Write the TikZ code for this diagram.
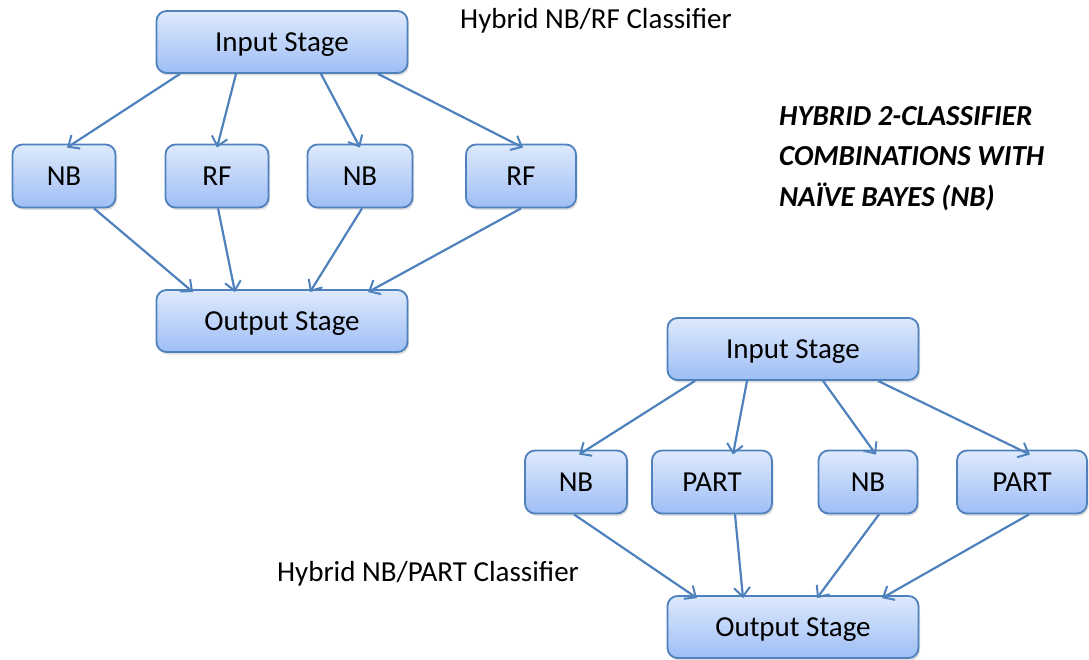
\documentclass[tikz,border=0pt]{standalone}
\usepackage{fontspec}
\setmainfont{Carlito}
\usetikzlibrary{arrows.meta,shadows}

\definecolor{boxline}{RGB}{79,129,189}
\definecolor{boxtop}{RGB}{222,233,252}
\definecolor{boxbot}{RGB}{158,190,246}

\tikzset{
  stagebox/.style={rectangle,rounded corners=10pt,draw=boxline,line width=1.8pt,
    top color=boxtop,bottom color=boxbot,inner sep=0pt,
    text height=19pt,text depth=0pt,
    drop shadow={shadow xshift=1.5pt,shadow yshift=-2.5pt,opacity=0.25},
    font=\fontsize{29}{34}\selectfont},
  wide/.style={minimum width=251pt,minimum height=62pt},
  leaf/.style={minimum height=63pt},
  caption/.style={font=\fontsize{29}{34}\selectfont}
}

\begin{document}
\begin{tikzpicture}[x=1pt,y=-1pt]
\useasboundingbox (0,0) rectangle (1089,660);
\begin{scope}[every node/.style={stagebox}]
    % NB/RF
    \node[wide] (IN1) at (282,42) {Input Stage};
    \node[leaf,minimum width=103pt] (NB1) at (64,176) {NB};
    \node[leaf,minimum width=103pt] (RF1) at (217,176) {RF};
    \node[leaf,minimum width=105pt] (NB2) at (360,176) {NB};
    \node[leaf,minimum width=110pt] (RF2) at (521,176) {RF};
    \node[wide] (OUT1) at (282,321) {Output Stage};
    % NB/PART
    \node[wide] (IN2) at (793,349) {Input Stage};
    \node[leaf,minimum width=102pt] (NB3) at (576,482) {NB};
    \node[leaf,minimum width=120pt] (PA1) at (712,482) {PART};
    \node[leaf,minimum width=99pt] (NB4) at (868,482) {NB};
    \node[leaf,minimum width=130pt] (PA2) at (1022,482) {PART};
    \node[wide] (OUT2) at (793,627) {Output Stage};
\end{scope}

\node[caption] (T1) at (596,21) {Hybrid NB/RF Classifier};
\node[caption] (T2) at (428,574) {Hybrid NB/PART Classifier};
\node[caption,anchor=north west,align=left,inner sep=0pt,font=\fontsize{29}{40.5}\selectfont\bfseries\itshape]
    (T3) at (779,106) {HYBRID 2-CLASSIFIER\\COMBINATIONS WITH\\NAÏVE BAYES (NB)};

\begin{scope}[>={Straight Barb[length=9pt,width=16pt,line width=2pt]},
              every edge/.style={draw=boxline,line width=2.2pt}]
    % Verteilung
    \path [->] ([xshift=-102pt]IN1.south) edge ([xshift=3pt,yshift=-4pt]NB1.north);
    \path [->] ([xshift=-46pt]IN1.south) edge ([yshift=-4pt]RF1.north);
    \path [->] ([xshift=39pt]IN1.south) edge ([yshift=-4pt]NB2.north);
    \path [->] ([xshift=96pt]IN1.south) edge ([xshift=2pt,yshift=-4pt]RF2.north);
    % Zusammenfuehrung
    \path [->] ([xshift=30pt]NB1.south) edge ([xshift=-89pt,yshift=-3pt]OUT1.north);
    \path [->] ([xshift=1pt]RF1.south) edge ([xshift=-47pt,yshift=-3pt]OUT1.north);
    \path [->] ([xshift=2pt]NB2.south) edge ([xshift=28pt,yshift=-3pt]OUT1.north);
    \path [->] (RF2.south) edge ([xshift=86pt,yshift=-3pt]OUT1.north);
    % Verteilung
    \path [->] ([xshift=-98pt]IN2.south) edge ([xshift=3pt,yshift=-5pt]NB3.north);
    \path [->] ([xshift=-46pt]IN2.south) edge ([xshift=21pt,yshift=-5pt]PA1.north);
    \path [->] ([xshift=30pt]IN2.south) edge ([xshift=8pt,yshift=-5pt]NB4.north);
    \path [->] ([xshift=85pt]IN2.south) edge ([xshift=8pt,yshift=-5pt]PA2.north);
    % Zusammenfuehrung
    \path [->] ([xshift=-2pt]NB3.south) edge ([xshift=-96pt,yshift=-3pt]OUT2.north);
    \path [->] ([xshift=23pt]PA1.south) edge ([xshift=-50pt,yshift=-3pt]OUT2.north);
    \path [->] ([xshift=11pt]NB4.south) edge ([xshift=24pt,yshift=-3pt]OUT2.north);
    \path [->] ([xshift=7pt]PA2.south) edge ([xshift=89pt,yshift=-3pt]OUT2.north);
\end{scope}
\end{tikzpicture}
\end{document}
